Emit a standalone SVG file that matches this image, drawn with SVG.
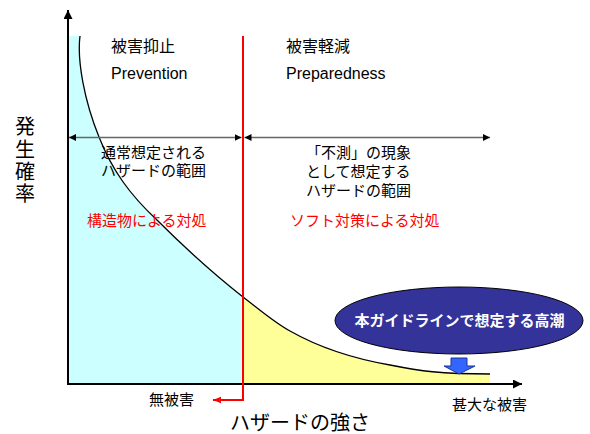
<svg xmlns="http://www.w3.org/2000/svg" width="590" height="434" viewBox="0 0 590 434">
<style>
text{font-family:"Liberation Sans","Noto Sans CJK JP",sans-serif;fill:#000}
.t16{font-size:16px}
.t15{font-size:15px}
.red{fill:#ff0000}
.big{font-size:20px}
.wb{fill:#fff;font-weight:bold;font-size:15px}
.axis{stroke:#000;stroke-width:2;fill:none}
.range{stroke:#666;stroke-width:1.5;fill:none}
</style>
<defs>
<marker id="ah" viewBox="0 0 10 10" refX="10" refY="5" markerWidth="7" markerHeight="7" markerUnits="userSpaceOnUse" orient="auto-start-reverse"><path d="M0,0 L10,5 L0,10 z" fill="#000"/></marker>
<marker id="ahBig" viewBox="0 0 10 10" refX="10" refY="5" markerWidth="9" markerHeight="9" markerUnits="userSpaceOnUse" orient="auto"><path d="M0,0 L10,5 L0,10 z" fill="#000"/></marker>
<marker id="ahRed" viewBox="0 0 10 10" refX="10" refY="5" markerWidth="8" markerHeight="8" markerUnits="userSpaceOnUse" orient="auto"><path d="M0,1 L10,5 L0,9 z" fill="#ff0000"/></marker>
</defs>
<g id="areas">
<path d="M68,36 L80,36 C77,60 84,100 99,137 C112,170 130,195 157,220 C185,248 215,275 243,297 L243,384 L68,384 Z" fill="#ccffff"/>
<path d="M243,297 C260,310 275,323 290,331 C320,348 350,358 390,365 C420,371 440,374 490,374 L490,384 L243,384 Z" fill="#ffff99"/>
</g>
<g id="curve">
<path d="M80,36 C77,60 84,100 99,137 C112,170 130,195 157,220 C185,248 215,275 243,297 C260,310 275,323 290,331 C320,348 350,358 390,365 C420,371 440,374 490,374" fill="none" stroke="#000" stroke-width="1.3"/>
</g>
<g id="connectors">
<line class="axis" x1="68" y1="385" x2="68" y2="10" marker-end="url(#ahBig)"/>
<line class="axis" x1="67" y1="384" x2="522" y2="384" marker-end="url(#ahBig)"/>
<line class="range" x1="69" y1="137.5" x2="241.5" y2="137.5" marker-start="url(#ah)" marker-end="url(#ah)"/>
<line class="range" x1="244.5" y1="137.5" x2="490" y2="137.5" marker-start="url(#ah)" marker-end="url(#ah)"/>
<path d="M243,36 L243,400 L213,400" fill="none" stroke="#ff0000" stroke-width="2" marker-end="url(#ahRed)"/>
</g>
<g id="prevention">
<text class="t16" x="111" y="52">被害抑止</text>
<text class="t16" x="111" y="79">Prevention</text>
</g>
<g id="preparedness">
<text class="t16" x="286" y="52">被害軽減</text>
<text class="t16" x="286" y="79">Preparedness</text>
</g>
<g id="normal-range">
<text class="t15" x="101" y="158">通常想定される</text>
<text class="t15" x="101" y="176">ハザードの範囲</text>
</g>
<g id="unexpected-range">
<text class="t15" x="306" y="158">「不測」の現象</text>
<text class="t15" x="306" y="177">として想定する</text>
<text class="t15" x="306" y="196">ハザードの範囲</text>
</g>
<g id="structural">
<text class="t15 red" x="87" y="226">構造物による対処</text>
</g>
<g id="soft">
<text class="t15 red" x="290" y="226">ソフト対策による対処</text>
</g>
<g id="guideline">
<ellipse cx="459" cy="320.5" rx="124" ry="33.5" fill="#333399" stroke="#000" stroke-width="1"/>
<text class="wb" x="459.5" y="326" text-anchor="middle">本ガイドラインで想定する高潮</text>
</g>
<g id="down-arrow">
<path d="M451,358 L467,358 L467,366 L475,366 L459,374 L444,366 L451,366 Z" fill="#3366ff" stroke="#1a3399" stroke-width="1"/>
</g>
<g id="y-label">
<text class="big" x="25" y="134" text-anchor="middle">発</text>
<text class="big" x="25" y="157" text-anchor="middle">生</text>
<text class="big" x="25" y="179" text-anchor="middle">確</text>
<text class="big" x="25" y="201" text-anchor="middle">率</text>
</g>
<g id="x-labels">
<text class="t15" x="149" y="405">無被害</text>
<text class="t15" x="452" y="410">甚大な被害</text>
<text class="big" x="230" y="430">ハザードの強さ</text>
</g>
</svg>
